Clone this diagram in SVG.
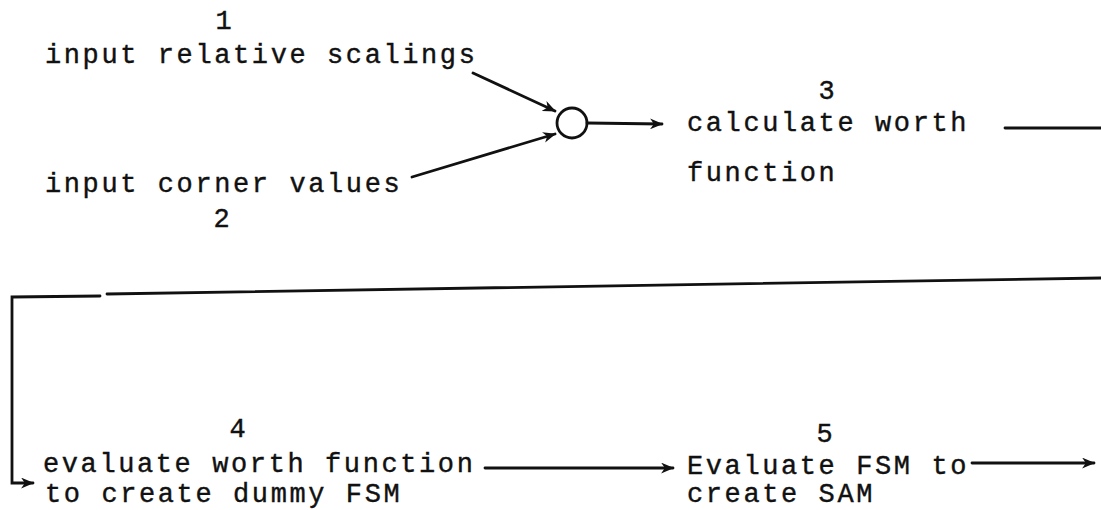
<svg xmlns="http://www.w3.org/2000/svg" width="1101" height="510" viewBox="0 0 1101 510">
<style>
  text { font-family: "Courier New", "Nimbus Mono PS", "FreeMono", "Liberation Mono", monospace; font-size: 27px; fill: #111; letter-spacing: 2.6px; stroke: #111; stroke-width: 0.4px; }
  .num { text-anchor: middle; }
  .ln { fill: none; stroke: #111; stroke-width: 2.8; stroke-linecap: round; stroke-linejoin: miter; }
</style>
<defs>
  <marker id="ah" viewBox="0 0 12 10" refX="11" refY="5" markerWidth="13" markerHeight="11" markerUnits="userSpaceOnUse" orient="auto">
    <path d="M0,0 L12,5 L0,10 L3.5,5 Z" fill="#111"/>
  </marker>
</defs>
<rect width="1101" height="510" fill="#fff"/>
<g id="n1">
  <text class="num" x="225" y="29">1</text>
  <text x="45" y="63">input relative scalings</text>
</g>
<g id="n2">
  <text x="45" y="192">input corner values</text>
  <text class="num" x="223" y="227">2</text>
</g>
<g id="join">
  <circle cx="572" cy="123" r="15" class="ln"/>
</g>
<g id="n3">
  <text class="num" x="828" y="99">3</text>
  <text x="687" y="131">calculate worth</text>
  <text x="687" y="181">function</text>
</g>
<g id="n4">
  <text class="num" x="239" y="437">4</text>
  <text x="43" y="472">evaluate worth function</text>
  <text x="45" y="502">to create dummy FSM</text>
</g>
<g id="n5">
  <text class="num" x="826" y="442">5</text>
  <text x="687" y="474">Evaluate FSM to</text>
  <text x="687" y="502">create SAM</text>
</g>
<g id="connectors">
  <line class="ln" x1="473" y1="73" x2="555" y2="111" marker-end="url(#ah)"/>
  <line class="ln" x1="412" y1="177" x2="555" y2="134" marker-end="url(#ah)"/>
  <line class="ln" x1="587" y1="123" x2="662" y2="124" marker-end="url(#ah)"/>
  <line class="ln" x1="1005" y1="128" x2="1101" y2="128"/>
  <path class="ln" d="M1101,278 L107,294"/>
  <path class="ln" d="M100,296 L12,297 L12,483 L33,483" marker-end="url(#ah)"/>
  <line class="ln" x1="485" y1="468" x2="673" y2="468" marker-end="url(#ah)"/>
  <line class="ln" x1="972" y1="463" x2="1094" y2="463" marker-end="url(#ah)"/>
</g>
</svg>
